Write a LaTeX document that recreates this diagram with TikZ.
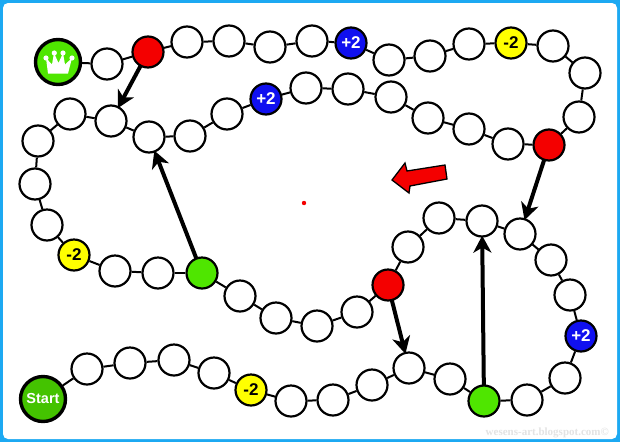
\documentclass[tikz,border=0pt]{standalone}
\usepackage{fontspec}
\setmainfont{Liberation Sans}
\newfontfamily\wmfont{Liberation Serif}
\usetikzlibrary{arrows.meta}
\definecolor{frameblue}{HTML}{1CA9F2}
\definecolor{kgreen}{HTML}{4FE600}
\definecolor{sgreen}{HTML}{44C300}
\definecolor{kred}{HTML}{F40000}
\definecolor{kblue}{HTML}{1010F0}
\definecolor{kyellow}{HTML}{FFFF00}
\tikzset{x=1pt,y=-1pt,
 cell/.style={circle,draw=black,line width=2.2pt,fill=white,minimum size=31pt,inner sep=0pt},
 cred/.style={cell,fill=kred},
 cgreen/.style={cell,fill=kgreen},
 cblue/.style={cell,fill=kblue,text=white,font=\fontsize{17}{17}\selectfont\bfseries},
 cyellow/.style={cell,fill=kyellow,text=black,font=\fontsize{17}{17}\selectfont\bfseries},
 bigc/.style={circle,draw=black,line width=3.4pt,inner sep=0pt,minimum size=45pt},
 link/.style={draw=black,line width=2pt},
 jump/.style={draw=black,line width=4pt,-{Stealth[length=17pt,width=18pt,inset=5pt]},shorten <=-1pt,shorten >=-2pt}}
\begin{document}
\begin{tikzpicture}
\useasboundingbox (0,0) rectangle (620,442);
\fill[frameblue] (0,0) rectangle (620,442);
\fill[white,rounded corners=5pt] (3,3) rectangle (617,439);
\foreach \n/\x/\y in {
 a1/87/369,a2/130/363,a3/174/360,a4/214/373,a6/291/401,a7/333/400,a8/372/385,a9/409/368,a10/450/379,
 a12/527/400,a13/565/378,a15/570/295,a16/551/260,a17/520/234,a18/482/221,a19/439/218,a20/408/247,
 a22/357/312,a23/317/326,a24/276/318,a25/240/296,a27/158/273,a28/115/271,a30/47/225,a31/35/184,
 a32/38/141,a33/70/114,a34/111/121,a35/149/137,a36/190/136,a37/227/114,a39/306/88,a40/348/89,
 a41/391/97,a42/428/118,a43/469/129,a44/508/144,a46/579/117,a47/585/73,a48/553/46,a50/469/44,
 a51/430/56,a52/389/60,a54/312/41,a55/270/47,a56/229/41,a57/187/42,a59/107/64}
 {\node[cell] (\n) at (\x,\y) {};}
\node[bigc,fill=sgreen] (a0) at (43,399) {};
\node[cyellow] (a5) at (251,390) {-2};
\node[cgreen] (a11) at (484,401) {};
\node[cblue] (a14) at (581,336) {+2};
\node[cred] (a21) at (388,285) {};
\node[cgreen] (a26) at (202,273) {};
\node[cyellow] (a29) at (74,255) {-2};
\node[cblue] (a38) at (266,99) {+2};
\node[cred] (a45) at (549,145) {};
\node[cyellow] (a49) at (511,43) {-2};
\node[cblue] (a53) at (351,43) {+2};
\node[cred] (a58) at (148,52) {};
\node[bigc,fill=kgreen] (a60) at (58,62) {};
\node[text=white,font=\fontsize{14.5}{14.5}\selectfont\bfseries] (st) at (43,399) {Start};
\foreach \u/\v in {a0/a1,a1/a2,a2/a3,a3/a4,a4/a5,a5/a6,a6/a7,a7/a8,a8/a9,a9/a10,a10/a11,a11/a12,a12/a13,a13/a14,
 a14/a15,a15/a16,a16/a17,a17/a18,a18/a19,a19/a20,a20/a21,a21/a22,a22/a23,a23/a24,a24/a25,a25/a26,a26/a27,a27/a28,
 a28/a29,a29/a30,a30/a31,a31/a32,a32/a33,a33/a34,a34/a35,a35/a36,a36/a37,a37/a38,a38/a39,a39/a40,a40/a41,a41/a42,
 a42/a43,a43/a44,a44/a45,a45/a46,a46/a47,a47/a48,a48/a49,a49/a50,a50/a51,a51/a52,a52/a53,a53/a54,a54/a55,a55/a56,
 a56/a57,a57/a58,a58/a59,a59/a60}
 {\path[link] (\u) -- (\v);}
\fill[white] (48,73.5) -- (68,73.5) -- (72,58) -- (65,64.5) -- (63,53) -- (58.5,63) -- (54,53) -- (52,64.5) -- (46,58) -- cycle;
\fill[white] (46,58) circle (2.6pt) (54.3,53) circle (2.6pt) (63,53) circle (2.6pt) (72,58) circle (2.6pt);
\path[jump] (a58) -- (a34);
\path[jump] (a26) -- (a35);
\path[jump] (a45) -- (a17);
\path[jump] (a21) -- (a9);
\path[jump] (a11) -- (a18);
\draw[black,line width=1.3pt,fill=kred,line join=miter] (392,180) -- (405,163) -- (407,171) -- (445,165) -- (447,179) -- (410,186) -- (409,193) -- cycle;
\fill[kred] (304,203) circle (2.2pt);
\node[anchor=east,inner sep=0pt,text=black!11,font=\wmfont\fontsize{11}{11}\selectfont\bfseries] (wm) at (609,432.5) {wesens-art.blogspot.com©};
\end{tikzpicture}
\end{document}
